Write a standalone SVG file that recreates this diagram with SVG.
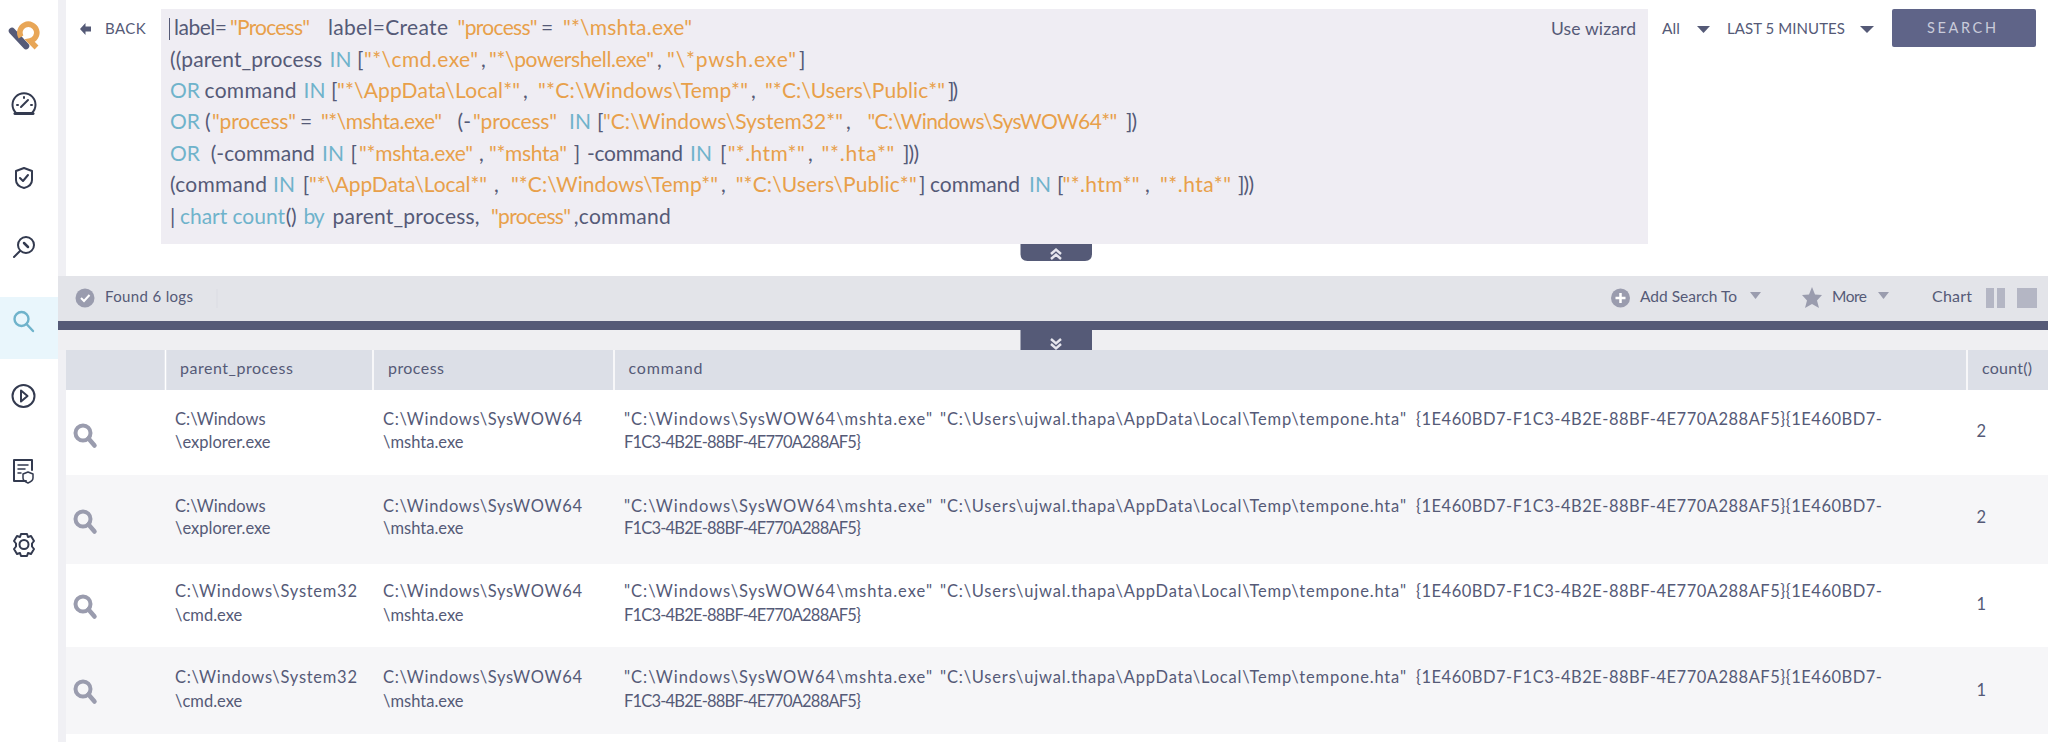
<svg xmlns="http://www.w3.org/2000/svg" width="2048" height="742" viewBox="0 0 2048 742">
<style>
text{font-family:"Lato","Open Sans","Liberation Sans",sans-serif;fill:#555a77}
.q{font-size:21px}
.o{fill:#e8a04a}
.b{fill:#6fb3cb}
.cell{font-size:16.500px}
.hd{font-size:16px}
.ic{fill:none;stroke:#333a4f;stroke-width:2;stroke-linecap:round;stroke-linejoin:round}
.tri{fill:#555a77}
.gt{fill:#9a9cae}
.ch{fill:none;stroke:#e6e6ee;stroke-width:2.400}
</style>
<defs>
<g id="mag"><circle cx="-2" cy="-2" r="7.500" fill="none" stroke="#9a9cae" stroke-width="4"/><path d="M3.500 3.500L9.500 10.500" stroke="#9a9cae" stroke-width="4.500" stroke-linecap="round"/></g>
</defs>
<rect width="2048" height="742" fill="#fff"/>

<g id="sidebar">
<rect x="58" y="0" width="8" height="742" fill="#f0f0f4"/>
<rect x="0" y="297" width="58" height="62" fill="#e9f6fc"/>
<g id="logo"><path d="M12 31L26 46" stroke="#555a77" stroke-width="6.500" stroke-linecap="round" fill="none"/><path d="M21 37A8.500 8.500 0 1 1 30 41L36.500 47.500" stroke="#e8a657" stroke-width="5.500" fill="none"/></g>
<g id="icon-gauge" class="ic"><path d="M16 113A11.500 11.500 0 1 1 32 113Z"/><path d="M21 107L28 100"/><path d="M17 105h1M24 97v1M31 105h1"/><path d="M15 113.500H33" stroke-width="3"/></g>
<g id="icon-shield" class="ic"><path d="M24 168L32 171V180Q32 186 24 188Q16 186 16 180V171Z"/><path d="M20 178L23 181L28 175"/></g>
<g id="icon-hunt" class="ic"><circle cx="26" cy="245" r="8"/><path d="M20 251L14 257"/><path d="M24 243L28 247" stroke-width="2.500"/></g>
<g id="icon-search"><circle cx="21.500" cy="319" r="7" fill="none" stroke="#6fb3cb" stroke-width="2.400"/><path d="M26.500 324L33 331" stroke="#6fb3cb" stroke-width="2.400" stroke-linecap="round"/></g>
<g id="icon-play" class="ic"><circle cx="23.500" cy="396" r="11"/><path d="M21 390.500L27.500 396L21 401.500Z"/></g>
<g id="icon-report" class="ic"><path d="M26 481H14V460H32V470"/><path d="M18 465H28M18 469H25M18 473H21" stroke-width="1.500"/><path d="M28 472L33 474V478Q33 481 28 483Q23 481 23 478V474Z" stroke-width="1.500"/></g>
<g id="icon-gear" class="ic"><circle cx="24" cy="544.500" r="4.500"/><path d="M21 534h6l1 3 3-1 3 5-2 2.500 0 3 2 2.500-3 5-3-1-1 3h-6l-1-3-3 1-3-5 2-2.500 0-3-2-2.500 3-5 3 1z"/></g>
</g>

<g id="top">
<path d="M85.500 23L80 29L85.500 35V31.500H91V26.500H85.500Z" fill="#555a77"/>
<text x="105" y="34" font-size="15" letter-spacing="1.200" textLength="42">BACK</text>
<rect id="query-box" x="161" y="9" width="1487" height="235" fill="#efedf3"/>
<rect x="169" y="18" width="1" height="22" fill="#555a77"/>
<g id="query" class="q">
<g transform="translate(0,34.500)"><text class="q" x="174" textLength="53">label=</text><text class="q o" x="230" textLength="80">"Process"</text><text class="q" x="328" textLength="120">label=Create</text><text class="q o" x="457.600" textLength="80">"process"</text><text class="q" x="541">=</text><text class="q o" x="563" textLength="129">"*\mshta.exe"</text></g>
<g transform="translate(0,66.500)"><text class="q" x="170" textLength="152">((parent_process</text><text class="q b" x="329.500">IN</text><text class="q" x="357">[</text><text class="q o" x="364" textLength="114">"*\cmd.exe"</text><text class="q" x="481">,</text><text class="q o" x="489" textLength="165">"*\powershell.exe"</text><text class="q" x="657">,</text><text class="q o" x="667" textLength="129">"\*pwsh.exe"</text><text class="q" x="799">]</text></g>
<g transform="translate(0,97.500)"><text class="q b" x="170">OR</text><text class="q" x="204.500" textLength="92">command</text><text class="q b" x="303.600">IN</text><text class="q" x="331">[</text><text class="q o" x="337" textLength="183">"*\AppData\Local*"</text><text class="q" x="523">,</text><text class="q o" x="538" textLength="210">"*C:\Windows\Temp*"</text><text class="q" x="751">,</text><text class="q o" x="765" textLength="180">"*C:\Users\Public*"</text><text class="q" x="948" textLength="10">])</text></g>
<g transform="translate(0,129)"><text class="q b" x="170">OR</text><text class="q" x="205">(</text><text class="q o" x="212" textLength="84">"process"</text><text class="q" x="300">=</text><text class="q o" x="321" textLength="121">"*\mshta.exe"</text><text class="q" x="457.600">(-</text><text class="q o" x="473" textLength="84">"process"</text><text class="q b" x="569">IN</text><text class="q" x="597">[</text><text class="q o" x="603" textLength="240">"C:\Windows\System32*"</text><text class="q" x="846">,</text><text class="q o" x="867.400" textLength="250">"C:\Windows\SysWOW64*"</text><text class="q" x="1126" textLength="11">])</text></g>
<g transform="translate(0,160.500)"><text class="q b" x="170">OR</text><text class="q" x="210.700" textLength="104">(-command</text><text class="q b" x="322">IN</text><text class="q" x="350.400">[</text><text class="q o" x="359" textLength="114">"*mshta.exe"</text><text class="q" x="479">,</text><text class="q o" x="489" textLength="78">"*mshta"</text><text class="q" x="573.700">]</text><text class="q" x="587" textLength="96">-command</text><text class="q b" x="690">IN</text><text class="q" x="720">[</text><text class="q o" x="727.700" textLength="77">"*.htm*"</text><text class="q" x="808">,</text><text class="q o" x="821.400" textLength="73">"*.hta*"</text><text class="q" x="903" textLength="16">]))</text></g>
<g transform="translate(0,192)"><text class="q" x="170" textLength="97">(command</text><text class="q b" x="273">IN</text><text class="q" x="302.700">[</text><text class="q o" x="309" textLength="178">"*\AppData\Local*"</text><text class="q" x="494">,</text><text class="q o" x="511" textLength="207">"*C:\Windows\Temp*"</text><text class="q" x="721">,</text><text class="q o" x="735.700" textLength="181">"*C:\Users\Public*"</text><text class="q" x="919">]</text><text class="q" x="930" textLength="90">command</text><text class="q b" x="1029">IN</text><text class="q" x="1057">[</text><text class="q o" x="1062.500" textLength="77">"*.htm*"</text><text class="q" x="1145">,</text><text class="q o" x="1160" textLength="71">"*.hta*"</text><text class="q" x="1238" textLength="16">]))</text></g>
<g transform="translate(0,223.500)"><text class="q" x="170">|</text><text class="q b" x="180" textLength="105">chart count</text><text class="q" x="285.700" textLength="11">()</text><text class="q b" x="303.600" textLength="21">by</text><text class="q" x="332.600" textLength="147">parent_process,</text><text class="q o" x="491" textLength="80">"process"</text><text class="q" x="573.700" textLength="97">,command</text></g>
</g>
<text x="1551" y="35" font-size="17.500" textLength="85">Use wizard</text>
<text x="1662" y="34" font-size="15.500" textLength="18">All</text>
<path class="tri" d="M1697 26H1710L1703.500 33Z"/>
<text x="1727" y="34" font-size="15" textLength="118">LAST 5 MINUTES</text>
<path class="tri" d="M1860 26H1874L1867 33Z"/>
<rect id="search-button" x="1892" y="9" width="144" height="38" rx="2" fill="#5f6488"/>
<text x="1927" y="33" font-size="14.500" letter-spacing="3" style="fill:#c9cbda" textLength="72">SEARCH</text>
<g id="collapse-up"><path d="M1020.500 244H1092V254Q1092 261 1085 261H1027.500Q1020.500 261 1020.500 254Z" fill="#555a77"/><path class="ch" d="M1051 254L1056 249.500L1061 254M1051 259L1056 254.500L1061 259"/></g>
</g>

<g id="toolbar">
<rect x="58" y="276" width="1990" height="45" fill="#e3e4e9"/>
<circle cx="85" cy="298" r="9.500" fill="#9a9cae"/>
<path d="M81 298L84 301L89.500 295" fill="none" stroke="#fff" stroke-width="2"/>
<text x="105" y="302" font-size="15" textLength="88">Found 6 logs</text>
<path d="M217 289V308" stroke="#dbdce3"/>
<circle cx="1620.500" cy="298" r="9.500" fill="#9a9cae"/>
<path d="M1615.500 298H1625.500M1620.500 293V303" stroke="#fff" stroke-width="2.500"/>
<text x="1640" y="302" font-size="15.500" textLength="97">Add Search To</text>
<path class="gt" d="M1750 292H1761L1755.500 299Z"/>
<path d="M1812 287L1815 294.500L1822 295L1817 300.500L1819 308L1812 304L1805 308L1807 300.500L1802 295L1809 294.500Z" fill="#9a9cae"/>
<text x="1832" y="302" font-size="15.500" textLength="35">More</text>
<path class="gt" d="M1878 292H1889L1883.500 299Z"/>
<text x="1932" y="302" font-size="16" textLength="40">Chart</text>
<rect x="1986" y="288" width="8" height="20" fill="#b4b6c4"/><rect x="1997" y="288" width="8" height="20" fill="#b4b6c4"/>
<rect x="2017" y="288" width="20" height="20" fill="#b4b6c4"/>
</g>

<g id="table">
<rect x="58" y="321" width="1990" height="9" fill="#555a77"/>
<rect x="58" y="330" width="1990" height="20" fill="#efeff2"/>
<rect x="66" y="350" width="1982" height="40" fill="#dcdfe7"/>
<path d="M165.500 350V390M373 350V390M614 350V390M1967 350V390" stroke="#fff" stroke-width="1.500"/>
<g id="collapse-down"><rect x="1020.500" y="330" width="71.500" height="20" fill="#555a77"/><path class="ch" d="M1051 339L1056 343.500L1061 339M1051 344L1056 348.500L1061 344"/></g>
<text class="hd" x="180" y="374" textLength="113">parent_process</text>
<text class="hd" x="388" y="374" textLength="56">process</text>
<text class="hd" x="628.500" y="374" textLength="74">command</text>
<text class="hd" x="1982" y="374" textLength="50">count()</text>

<rect x="66" y="475" width="1982" height="89" fill="#f6f6f8"/>
<rect x="66" y="647" width="1982" height="87" fill="#f6f6f8"/>

<g id="row-1">
<use href="#mag" x="85" y="435"/>
<text class="cell" x="175" y="425">C:\Windows</text><text class="cell" x="175" y="448">\explorer.exe</text>
<text class="cell" x="383" y="425" textLength="199">C:\Windows\SysWOW64</text><text class="cell" x="383" y="448">\mshta.exe</text>
<text class="cell" x="624" y="425" textLength="308">"C:\Windows\SysWOW64\mshta.exe"</text><text class="cell" x="940" y="425" textLength="466">"C:\Users\ujwal.thapa\AppData\Local\Temp\tempone.hta"</text><text class="cell" x="1416" y="425" textLength="466">{1E460BD7-F1C3-4B2E-88BF-4E770A288AF5}{1E460BD7-</text>
<text class="cell" x="624" y="448" textLength="237">F1C3-4B2E-88BF-4E770A288AF5}</text>
<text class="cell" x="1976.500" y="437">2</text>
</g>
<g id="row-2">
<use href="#mag" x="85" y="521"/>
<text class="cell" x="175" y="512">C:\Windows</text><text class="cell" x="175" y="534">\explorer.exe</text>
<text class="cell" x="383" y="512" textLength="199">C:\Windows\SysWOW64</text><text class="cell" x="383" y="534">\mshta.exe</text>
<text class="cell" x="624" y="512" textLength="308">"C:\Windows\SysWOW64\mshta.exe"</text><text class="cell" x="940" y="512" textLength="466">"C:\Users\ujwal.thapa\AppData\Local\Temp\tempone.hta"</text><text class="cell" x="1416" y="512" textLength="466">{1E460BD7-F1C3-4B2E-88BF-4E770A288AF5}{1E460BD7-</text>
<text class="cell" x="624" y="534" textLength="237">F1C3-4B2E-88BF-4E770A288AF5}</text>
<text class="cell" x="1976.500" y="523">2</text>
</g>
<g id="row-3">
<use href="#mag" x="85" y="606"/>
<text class="cell" x="175" y="597" textLength="182">C:\Windows\System32</text><text class="cell" x="175" y="621">\cmd.exe</text>
<text class="cell" x="383" y="597" textLength="199">C:\Windows\SysWOW64</text><text class="cell" x="383" y="621">\mshta.exe</text>
<text class="cell" x="624" y="597" textLength="308">"C:\Windows\SysWOW64\mshta.exe"</text><text class="cell" x="940" y="597" textLength="466">"C:\Users\ujwal.thapa\AppData\Local\Temp\tempone.hta"</text><text class="cell" x="1416" y="597" textLength="466">{1E460BD7-F1C3-4B2E-88BF-4E770A288AF5}{1E460BD7-</text>
<text class="cell" x="624" y="621" textLength="237">F1C3-4B2E-88BF-4E770A288AF5}</text>
<text class="cell" x="1976.500" y="610">1</text>
</g>
<g id="row-4">
<use href="#mag" x="85" y="691"/>
<text class="cell" x="175" y="683" textLength="182">C:\Windows\System32</text><text class="cell" x="175" y="707">\cmd.exe</text>
<text class="cell" x="383" y="683" textLength="199">C:\Windows\SysWOW64</text><text class="cell" x="383" y="707">\mshta.exe</text>
<text class="cell" x="624" y="683" textLength="308">"C:\Windows\SysWOW64\mshta.exe"</text><text class="cell" x="940" y="683" textLength="466">"C:\Users\ujwal.thapa\AppData\Local\Temp\tempone.hta"</text><text class="cell" x="1416" y="683" textLength="466">{1E460BD7-F1C3-4B2E-88BF-4E770A288AF5}{1E460BD7-</text>
<text class="cell" x="624" y="707" textLength="237">F1C3-4B2E-88BF-4E770A288AF5}</text>
<text class="cell" x="1976.500" y="696">1</text>
</g>
</g>
</svg>
